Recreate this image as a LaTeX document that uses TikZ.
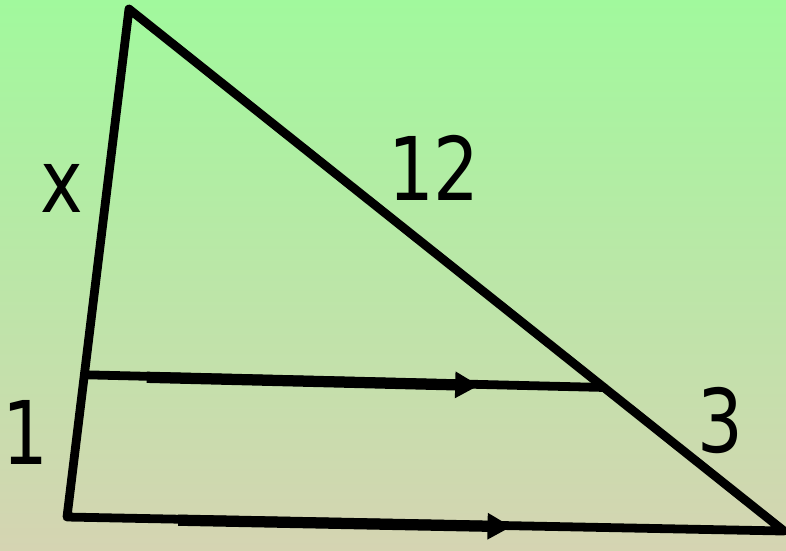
\documentclass[tikz,border=0pt]{standalone}
\usepackage{fontspec}
\setmainfont{DejaVu Sans}
\usetikzlibrary{arrows.meta, calc}

\definecolor{topgreen}{RGB}{161,249,157}
\definecolor{bottomtan}{RGB}{213,212,178}

\begin{document}
\begin{tikzpicture}
        \tikzstyle{side} = [line width=2.5pt, line join=round, line cap=round]
        \tikzstyle{para} = [line width=3.2pt, -{Triangle[length=0.24cm, width=0.25cm]}]
        \tikzstyle{lbl} = [font=\fontsize{25}{30}\selectfont, inner sep=0pt, transform shape, xscale=0.82]
        \shade[top color=topgreen, bottom color=bottomtan] (0,0) rectangle (7.86,5.5);
        \useasboundingbox (0,0) rectangle (7.86,5.5);
        \coordinate (A) at (1.29, 5.41);
        \coordinate (B) at (0.67, 0.33);
        \coordinate (C) at (7.84, 0.19);
        \coordinate (D) at ($(A)!0.72!(B)$);
        \coordinate (E) at ($(A)!0.725!(C)$);
        \draw[side] (A) -- (B) -- (C) -- cycle;
        \draw[side] (D) -- (E);
        \draw[para] ($(D)!0.12!(E)+(0,-0.01)$) -- ($(D)!0.76!(E)+(0,-0.01)$);
        \draw[para] ($(B)!0.155!(C)+(0,-0.01)$) -- ($(B)!0.62!(C)+(0,-0.01)$);
        \node[lbl] (x) at (0.62, 3.62) {x};
        \node[lbl] (twelve) at (4.34, 3.82) {12};
        \node[lbl] (one) at (0.25, 1.18) {1};
        \node[lbl] (three) at (7.20, 1.30) {3};
      \end{tikzpicture}
\end{document}
